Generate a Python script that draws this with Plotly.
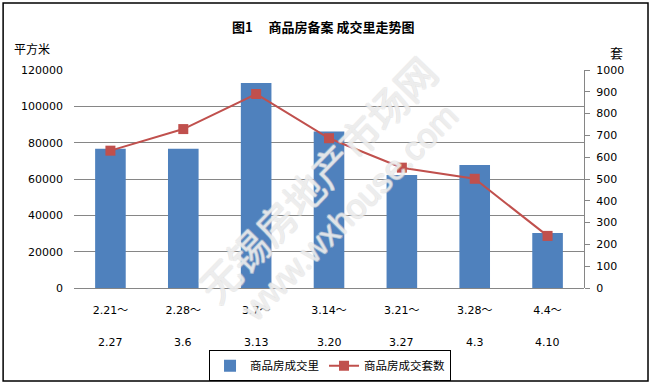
import plotly.graph_objects as go

categories = ["2.21～", "2.28～", "3.7～", "3.14～", "3.21～", "3.28～", "4.4～"]
cat_end = ["2.27", "3.6", "3.13", "3.20", "3.27", "4.3", "4.10"]
area = [76700, 76700, 112800, 86100, 62200, 67700, 30300]
units = [630, 729, 890, 687, 552, 501, 239]
left_ticks = [0, 20000, 40000, 60000, 80000, 100000, 120000]
right_ticks = [0, 100, 200, 300, 400, 500, 600, 700, 800, 900, 1000]

FONT = "DejaVu Sans, Noto Sans CJK SC, sans-serif"
CJK = "Noto Sans CJK SC, sans-serif"
GRID = "#868686"

fig = go.Figure()
fig.add_trace(go.Bar(
    x=categories, y=area, name="商品房成交里",
    marker=dict(color="#4F81BD", line=dict(width=0)),
    yaxis="y",
))
fig.add_trace(go.Scatter(
    x=categories, y=units, name="商品房成交套数", mode="lines+markers",
    line=dict(color="#C0504D", width=2),
    marker=dict(symbol="square", size=10, color="#C0504D"),
    yaxis="y2",
))

annotations = []
for c, e in zip(categories, cat_end):
    annotations.append(dict(x=c, xref="x", y=-0.248, yref="paper", text=e,
                            showarrow=False, font=dict(family=FONT, size=11, color="#000"),
                            xanchor="center", yanchor="middle"))
annotations += [
    dict(x=0.49, xref="paper", y=1.2, yref="paper", text="<b>图1　 商品房备案 成交里走势图</b>",
         showarrow=False, font=dict(family=CJK, size=13, color="#000"),
         xanchor="center", yanchor="middle"),
    dict(x=-0.121, xref="paper", y=1.10, yref="paper", text="平方米",
         showarrow=False, font=dict(family=CJK, size=12, color="#000"),
         xanchor="left", yanchor="middle"),
    dict(x=1.048, xref="paper", y=1.078, yref="paper", text="套",
         showarrow=False, font=dict(family=CJK, size=13, color="#000"),
         xanchor="left", yanchor="middle"),
]
shadow = "1px 0 0 #dcdcdc, -1px 0 0 #dcdcdc, 0 1px 0 #dcdcdc, 0 -1px 0 #dcdcdc"
annotations += [
    dict(x=0.476, xref="paper", y=0.50, yref="paper", text="无锡房地产市场网",
         showarrow=False, textangle=-46,
         font=dict(family=CJK, size=40, color="rgba(255,255,255,0.45)", shadow=shadow),
         xanchor="center", yanchor="middle"),
    dict(x=0.54, xref="paper", y=0.35, yref="paper", text="www.wxhouse.com",
         showarrow=False, textangle=-45,
         font=dict(family="Liberation Sans, sans-serif", size=34, color="rgba(255,255,255,0.45)", shadow=shadow),
         xanchor="center", yanchor="middle"),
]

fig.update_layout(
    width=652, height=385,
    margin=dict(l=74, r=68, t=70, b=97, pad=0, autoexpand=False),
    paper_bgcolor="white", plot_bgcolor="white",
    font=dict(family=FONT, size=11, color="#000"),
    bargap=0.58,
    showlegend=True,
    legend=dict(orientation="h", x=0.502, xanchor="center", y=-0.285, yanchor="top",
                bordercolor="#000", borderwidth=1, bgcolor="white",
                font=dict(family=CJK, size=11.5, color="#000"),
                itemwidth=30, tracegroupgap=0),
    xaxis=dict(showgrid=False, showline=False, ticks="", zeroline=False,
               tickfont=dict(family=FONT, size=11), ticklabelstandoff=14,
               fixedrange=True),
    yaxis=dict(range=[0, 120000], tickvals=left_ticks, showgrid=True, gridcolor=GRID, gridwidth=1,
               zeroline=True, zerolinecolor=GRID, zerolinewidth=1, showline=False, ticks="",
               tickfont=dict(family=FONT, size=11), ticklabelstandoff=10, tickformat="d"),
    yaxis2=dict(range=[0, 1000], tickvals=right_ticks, overlaying="y", side="right",
                showgrid=False, zeroline=False, showline=True, linecolor=GRID, linewidth=1,
                ticks="outside", ticklen=5, tickcolor=GRID,
                tickfont=dict(family=FONT, size=11), ticklabelstandoff=4),
    annotations=annotations,
    shapes=[dict(type="rect", xref="paper", yref="paper",
                 x0=-0.139, x1=1.1255, y0=-0.4266, y1=1.307,
                 line=dict(color="#000", width=1.5), fillcolor="rgba(0,0,0,0)", layer="below")],
)

fig.write_html("out.html")
